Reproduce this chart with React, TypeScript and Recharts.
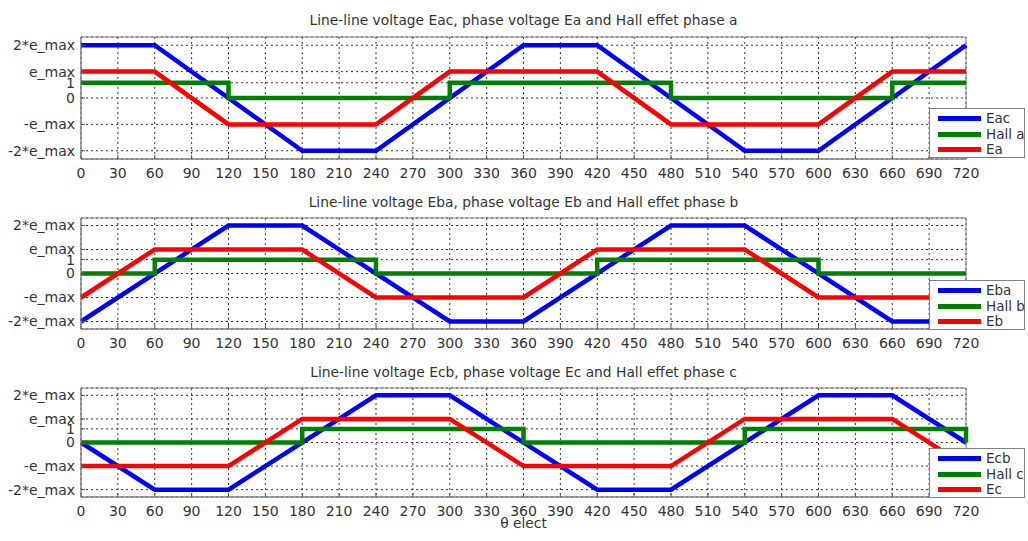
import { CartesianGrid, Line, LineChart, ReferenceArea, XAxis, YAxis } from 'recharts';

const E_MAX = 1.73;

const THETA_TICKS = [
  0, 30, 60, 90, 120, 150, 180, 210, 240, 270, 300, 330, 360, 390, 420, 450, 480, 510, 540, 570, 600,
  630, 660, 690, 720,
];
const Y_TICKS = [-2 * E_MAX, -E_MAX, 0, 1, E_MAX, 2 * E_MAX];
const Y_TICK_LABELS = ['-2*e_max', '-e_max', '0', '1', 'e_max', '2*e_max'];

// breakpoints [theta, value]; voltages in units of e_max, hall signals raw 0/1
const EAC = [[0, 2], [60, 2], [180, -2], [240, -2], [360, 2], [420, 2], [540, -2], [600, -2], [720, 2]];
const EA = [[0, 1], [60, 1], [120, -1], [240, -1], [300, 1], [420, 1], [480, -1], [600, -1], [660, 1], [720, 1]];
const HALL_A = [[0, 1], [120, 1], [120, 0], [300, 0], [300, 1], [480, 1], [480, 0], [660, 0], [660, 1], [720, 1]];

const EBA = [[0, -2], [120, 2], [180, 2], [300, -2], [360, -2], [480, 2], [540, 2], [660, -2], [720, -2]];
const EB = [[0, -1], [60, 1], [180, 1], [240, -1], [360, -1], [420, 1], [540, 1], [600, -1], [720, -1]];
const HALL_B = [[0, 0], [60, 0], [60, 1], [240, 1], [240, 0], [420, 0], [420, 1], [600, 1], [600, 0], [720, 0]];

const ECB = [[0, 0], [60, -2], [120, -2], [240, 2], [300, 2], [420, -2], [480, -2], [600, 2], [660, 2], [720, 0]];
const EC = [[0, -1], [120, -1], [180, 1], [300, 1], [360, -1], [480, -1], [540, 1], [660, 1], [720, -1]];
const HALL_C = [[0, 0], [180, 0], [180, 1], [360, 1], [360, 0], [540, 0], [540, 1], [720, 1], [720, 0]];

const FONT = "'DejaVu Sans', sans-serif";
const TEXT = '#333';
const BLUE = '#0000ff';
const GREEN = '#008000';
const RED = '#ff0000';

const toPoints = (pts: number[][], k: number) => pts.map(([t, v]) => ({ t, v: v * k }));

const PANELS = [
  {
    title: 'Line-line voltage Eac, phase voltage Ea and Hall effet phase a',
    titleY: 20,
    plotTop: 37,
    plotHeight: 122,
    legendTop: 108,
    series: [
      { name: 'Eac', pts: toPoints(EAC, E_MAX), color: BLUE },
      { name: 'Hall a', pts: toPoints(HALL_A, 1), color: GREEN },
      { name: 'Ea', pts: toPoints(EA, E_MAX), color: RED },
    ],
  },
  {
    title: 'Line-line voltage Eba, phase voltage Eb and Hall effet phase b',
    titleY: 202,
    plotTop: 218,
    plotHeight: 111,
    legendTop: 280,
    series: [
      { name: 'Eba', pts: toPoints(EBA, E_MAX), color: BLUE },
      { name: 'Hall b', pts: toPoints(HALL_B, 1), color: GREEN },
      { name: 'Eb', pts: toPoints(EB, E_MAX), color: RED },
    ],
  },
  {
    title: 'Line-line voltage Ecb, phase voltage Ec and Hall effet phase c',
    titleY: 372,
    plotTop: 388,
    plotHeight: 109,
    legendTop: 448,
    series: [
      { name: 'Ecb', pts: toPoints(ECB, E_MAX), color: BLUE },
      { name: 'Hall c', pts: toPoints(HALL_C, 1), color: GREEN },
      { name: 'Ec', pts: toPoints(EC, E_MAX), color: RED },
    ],
  },
];

const PLOT_LEFT = 81;
const PLOT_RIGHT = 966;
const TOP_PAD = 5;
const XAXIS_H = 30;

const tickStyle = { fontSize: 14, fill: TEXT, fontFamily: FONT };

const App = () => {
  return (
    <div
      style={{
        position: 'absolute',
        left: 0,
        top: 0,
        width: 1028,
        height: 541,
        background: '#fff',
        fontFamily: FONT,
        color: TEXT,
      }}
    >
      {PANELS.map((p) => (
        <div key={p.title}>
          <div
            style={{
              position: 'absolute',
              left: PLOT_LEFT,
              width: PLOT_RIGHT - PLOT_LEFT,
              top: p.titleY - 9,
              lineHeight: '18px',
              fontSize: 13.8,
              textAlign: 'center',
              whiteSpace: 'nowrap',
            }}
          >
            {p.title}
          </div>
          <div style={{ position: 'absolute', left: 0, top: p.plotTop - TOP_PAD }}>
            <LineChart
              width={1028}
              height={TOP_PAD + p.plotHeight + XAXIS_H}
              margin={{ top: TOP_PAD, right: 1028 - PLOT_RIGHT, bottom: 0, left: 0 }}
            >
              <CartesianGrid stroke="#333" strokeDasharray="2 3" />
              <XAxis
                dataKey="t"
                type="number"
                domain={[0, 720]}
                ticks={THETA_TICKS}
                interval={0}
                height={XAXIS_H}
                tickSize={-4}
                tickMargin={13}
                tick={tickStyle}
                axisLine={{ stroke: '#808080' }}
                tickLine={{ stroke: '#555' }}
              />
              <YAxis
                type="number"
                domain={[-4, 4]}
                ticks={Y_TICKS}
                interval={0}
                width={PLOT_LEFT}
                tickSize={-4}
                tickMargin={10}
                tick={tickStyle}
                tickFormatter={(v: number) => Y_TICK_LABELS[Y_TICKS.indexOf(v)] ?? ''}
                axisLine={{ stroke: '#808080' }}
                tickLine={{ stroke: '#555' }}
              />
              <ReferenceArea x1={0} x2={720} y1={-4} y2={4} fill="none" stroke="#808080" strokeWidth={1} />
              {p.series.map((s) => (
                <Line
                  key={s.name}
                  data={s.pts}
                  dataKey="v"
                  type="linear"
                  stroke={s.color}
                  strokeWidth={4.5}
                  dot={false}
                  activeDot={false}
                  isAnimationActive={false}
                />
              ))}
            </LineChart>
          </div>
          <div
            style={{
              position: 'absolute',
              left: 929,
              top: p.legendTop,
              width: 96,
              height: 50,
              boxSizing: 'border-box',
              border: '1px solid #808080',
              background: '#fff',
            }}
          >
            {p.series.map((s, i) => (
              <div
                key={s.name}
                style={{
                  position: 'absolute',
                  left: 8,
                  top: 2 + i * 15.5,
                  height: 15,
                  display: 'flex',
                  alignItems: 'center',
                  whiteSpace: 'nowrap',
                }}
              >
                <span style={{ display: 'inline-block', width: 43, height: 5, background: s.color }} />
                <span style={{ marginLeft: 5, fontSize: 13.5, lineHeight: '15px' }}>{s.name}</span>
              </div>
            ))}
          </div>
        </div>
      ))}
      <div
        style={{
          position: 'absolute',
          left: PLOT_LEFT,
          width: PLOT_RIGHT - PLOT_LEFT,
          top: 514,
          lineHeight: '18px',
          fontSize: 13.8,
          textAlign: 'center',
        }}
      >
        θ elect
      </div>
    </div>
  );
};

export default App;
